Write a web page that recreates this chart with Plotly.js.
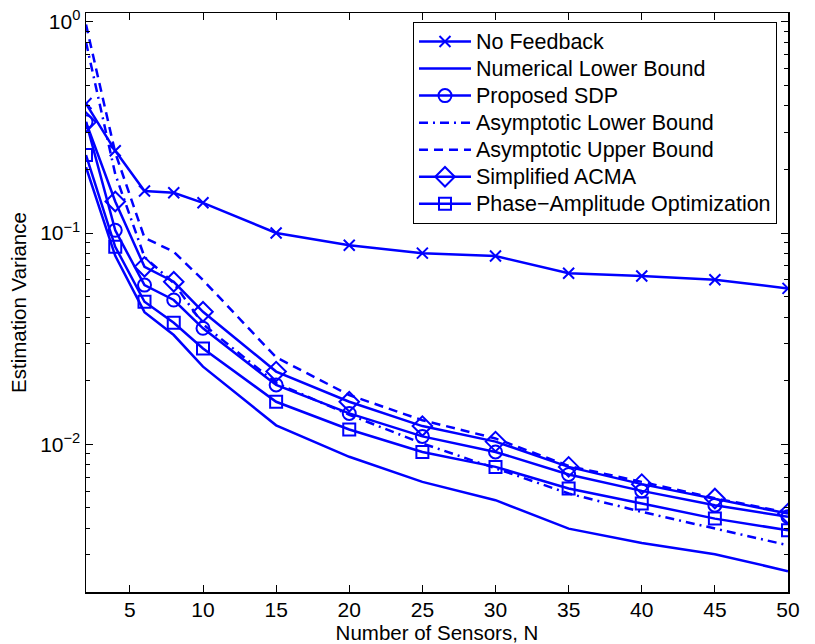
<!DOCTYPE html>
<html>
<head>
<meta charset="utf-8">
<script src="https://cdn.plot.ly/plotly-3.0.1.min.js"></script>
<style>
  html, body { margin: 0; padding: 0; background: #fff; }
  #chart { width: 815px; height: 644px; }
</style>
</head>
<body>
<div id="chart"></div>
<script>
// Number of sensors
const sensors = [2, 4, 6, 8, 10, 15, 20, 25, 30, 35, 40, 45, 50];

// Estimation variance for each scheme
const noFeedback     = [0.41, 0.245, 0.158, 0.155, 0.139, 0.100, 0.0875, 0.0803, 0.0778, 0.0645, 0.0626, 0.0601, 0.0547];
const numericalLower = [0.205, 0.078, 0.0422, 0.0329, 0.0233, 0.0123, 0.00873, 0.00664, 0.00544, 0.00399, 0.00341, 0.00302, 0.00251];
const proposedSDP    = [0.336, 0.103, 0.0567, 0.0482, 0.0354, 0.0191, 0.0140, 0.0109, 0.0092, 0.0072, 0.00602, 0.00515, 0.00454];
const asymLower      = [0.80, 0.19, 0.077, 0.058, 0.037, 0.0195, 0.0138, 0.0101, 0.0077, 0.00585, 0.00479, 0.00399, 0.00333];
const asymUpper      = [0.97, 0.24, 0.095, 0.0815, 0.0599, 0.0258, 0.0171, 0.0130, 0.01066, 0.0079, 0.00664, 0.00556, 0.00475];
const simplifiedACMA = [0.335, 0.141, 0.0692, 0.0588, 0.0424, 0.0221, 0.0159, 0.0122, 0.0103, 0.00782, 0.00648, 0.00554, 0.00470];
const phaseAmpOpt    = [0.234, 0.0861, 0.0473, 0.0376, 0.0284, 0.0159, 0.01175, 0.0092, 0.00782, 0.00618, 0.00525, 0.00445, 0.00392];

// Series names
const names = ['No Feedback', 'Numerical Lower Bound', 'Proposed SDP',
               'Asymptotic Lower Bound', 'Asymptotic Upper Bound',
               'Simplified ACMA', 'Phase\u2212Amplitude Optimization'];

// Axis ticks
const xTicks = [5, 10, 15, 20, 25, 30, 35, 40, 45, 50];
const yMajor = [0.01, 0.1, 1];
const yMajorText = ['10<sup>\u22122</sup>', '10<sup>\u22121</sup>', '10<sup>0</sup>'];
const yMinor = [0.002, 0.003, 0.004, 0.005, 0.006, 0.007, 0.008, 0.009,
                0.02, 0.03, 0.04, 0.05, 0.06, 0.07, 0.08, 0.09,
                0.2, 0.3, 0.4, 0.5, 0.6, 0.7, 0.8, 0.9];

const blue = 'rgb(0,0,255)';
const LW = 2.5;

// Legend rows are packed tightly: the row height follows the legend font
// size while the label glyphs are drawn a little larger.
function label(text) {
  return '<span style="font-size:21.5px">' + text + '</span>';
}

function series(name, y, dash, symbol, size) {
  const t = {
    x: sensors, y: y, name: label(name), type: 'scatter',
    mode: symbol ? 'lines+markers' : 'lines',
    line: { color: blue, width: LW, dash: dash || 'solid' }
  };
  if (symbol) {
    t.marker = { symbol: symbol, size: size, color: blue,
                 line: { color: blue, width: 2 } };
  }
  return t;
}

const traces = [
  series(names[0], noFeedback, 'solid', 'x-thin-open', 11),
  series(names[1], numericalLower, 'solid', null),
  series(names[2], proposedSDP, 'solid', 'circle-open', 13),
  series(names[3], asymLower, '9px,5px,2px,5px', null),
  series(names[4], asymUpper, '9px,6px', null),
  series(names[5], simplifiedACMA, 'solid', 'diamond-open', 15),
  series(names[6], phaseAmpOpt, 'solid', 'square-open', 12)
];

const font = 'Liberation Sans, Arial, Helvetica, sans-serif';
const tickSize = 21;
const titleSize = 20.5;

const layout = {
  width: 815, height: 644,
  margin: { l: 86, r: 27, t: 13, b: 52 },
  paper_bgcolor: '#fff', plot_bgcolor: '#fff',
  font: { family: font, size: tickSize, color: '#000' },
  showlegend: true,
  legend: {
    x: 0.4658, y: 0.9845, xanchor: 'left', yanchor: 'top',
    bgcolor: '#fff', bordercolor: '#000', borderwidth: 1,
    font: { family: font, size: 18.5, color: '#000' },
    itemwidth: 52,
    tracegroupgap: 0
  },
  xaxis: {
    range: [2, 50], tickvals: xTicks, ticks: 'inside', ticklen: 7,
    tickcolor: '#000', tickwidth: 1,
    showline: true, linecolor: '#000', linewidth: 1.5, mirror: 'ticks',
    showgrid: false, zeroline: false,
    tickfont: { family: font, size: tickSize, color: '#000' },
    ticklabelstandoff: -2,
    title: { text: 'Number of Sensors, N', font: { family: font, size: titleSize, color: '#000' }, standoff: 0 },
    automargin: false
  },
  yaxis: {
    type: 'log', range: [Math.log10(0.002), Math.log10(1.1)],
    tickvals: yMajor, ticktext: yMajorText,
    ticks: 'inside', ticklen: 7, tickcolor: '#000', tickwidth: 1,
    minor: { tickvals: yMinor, ticks: 'inside', ticklen: 4, tickcolor: '#000', tickwidth: 1, showgrid: false },
    showline: true, linecolor: '#000', linewidth: 1.5, mirror: 'ticks',
    showgrid: false, zeroline: false,
    tickfont: { family: font, size: tickSize, color: '#000' },
    title: { text: 'Estimation Variance', font: { family: font, size: titleSize, color: '#000' }, standoff: 8 },
    automargin: false
  }
};

Plotly.newPlot('chart', traces, layout, { displayModeBar: false, staticPlot: true });
</script>
</body>
</html>
